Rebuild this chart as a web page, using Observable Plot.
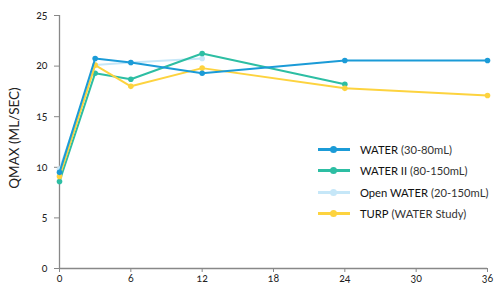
<!DOCTYPE html>
<html><head><meta charset="utf-8">
<script src="https://cdn.jsdelivr.net/npm/d3@7"></script>
<script src="https://cdn.jsdelivr.net/npm/@observablehq/plot@0.6"></script>
<style>
body{margin:0;background:#fff;font-family:Lato,"Open Sans",sans-serif;}
#wrap{position:relative;width:494px;height:284px;}
#legend{position:absolute;left:318px;top:139px;font-size:11.2px;color:#222;white-space:nowrap;width:176px;}
.row{display:flex;align-items:center;height:21.3px;white-space:nowrap;}
.sw{position:relative;width:32px;height:10px;margin-right:10px;flex:none;}
.sw .ln{position:absolute;left:0;right:0;top:3.5px;height:3px;}
.sw .dt{position:absolute;left:12px;top:1.5px;width:7px;height:7px;border-radius:50%;}
.nm{font-weight:400;color:#111;}
.pr{color:#333;margin-left:3px;}
svg text{font-variant-numeric:oldstyle-nums;}
</style></head>
<body><div id="wrap"><div id="chart"></div>
<div id="legend"></div></div>
<script>
const months = [0, 3, 6, 12, 24, 36];
const seriesNames = ["WATER", "WATER II", "Open WATER", "TURP"];
const seriesNotes = ["(30-80mL)", "(80-150mL)", "(20-150mL)", "(WATER Study)"];
const colors = ["#1b9bd7", "#2dbea3", "#c6e7f8", "#fdd33f"];
const water = [9.5, 20.75, 20.35, 19.3, 20.55, 20.55];
const water2 = [8.6, 19.3, 18.7, 21.25, 18.2, null];
const openWater = [9.8, 20.1, 20.35, 20.75, null, null];
const turp = [9.1, 20.1, 18.0, 19.8, 17.8, 17.1];
const xTicks = [0, 6, 12, 18, 24, 30, 36];
const yTicks = [0, 5, 10, 15, 20, 25];

const allValues = [water, water2, openWater, turp];
const data = [];
allValues.forEach((vals, si) => {
  vals.forEach((v, i) => { if (v != null) data.push({series: seriesNames[si], month: months[i], q: v}); });
});
const drawOrder = ["Open WATER", "WATER II", "TURP", "WATER"];
const marks = [];
for (const s of drawOrder) {
  const d = data.filter(r => r.series === s);
  const c = colors[seriesNames.indexOf(s)];
  marks.push(Plot.line(d, {x: "month", y: "q", stroke: c, strokeWidth: 2}));
  marks.push(Plot.dot(d, {x: "month", y: "q", fill: c, r: 2.8}));
}
const chart = Plot.plot({
  width: 494, height: 284,
  marginLeft: 59, marginRight: 7, marginTop: 15, marginBottom: 16,
  style: {fontFamily: "Lato, sans-serif", fontSize: "10.5px", color: "#222", background: "#fff"},
  x: {domain: [0, 36], ticks: xTicks, tickSize: 4, tickPadding: 3, label: null, line: true},
  y: {domain: [0, 25], ticks: yTicks, tickSize: 5, tickPadding: 7, label: null, line: true},
  marks: [
    Plot.axisY({ticks: yTicks, tickSize: 5, tickPadding: 7, stroke: "#888", fill: "#222", label: null}),
    Plot.axisX({ticks: xTicks, tickSize: 4, tickPadding: 2, stroke: "#888", fill: "#222", label: null}),
    Plot.ruleX([0], {stroke: "#888", strokeWidth: 1.3}),
    Plot.ruleY([0], {stroke: "#888", strokeWidth: 1.3}),
    Plot.text(["QMAX (ML/SEC)"], {frameAnchor: "left", textAnchor: "middle", dx: -45, dy: -4, rotate: -90, fontSize: 13.5, fill: "#222"}),
    ...marks
  ]
});
document.getElementById("chart").appendChild(chart);
const lg = document.getElementById("legend");
seriesNames.forEach((n, i) => {
  const r = document.createElement("div"); r.className = "row";
  r.innerHTML = `<div class="sw"><div class="ln" style="background:${colors[i]}"></div><div class="dt" style="background:${colors[i]}"></div></div><span class="nm">${n}</span><span class="pr">${seriesNotes[i]}</span>`;
  lg.appendChild(r);
});
</script></body></html>
